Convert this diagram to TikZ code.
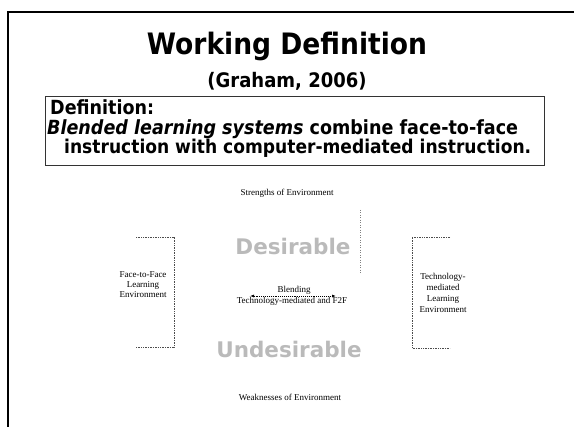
\documentclass[tikz,border=0pt]{standalone}
\usepackage{fontspec}
\setmainfont{Liberation Serif}
\newfontfamily\tah[FakeStretch=0.9]{DejaVu Sans}
\newfontfamily\dv{DejaVu Sans}
\usetikzlibrary{arrows.meta}
\begin{document}
\begin{tikzpicture}[x=1pt,y=-1pt,
  titletext/.style={font=\tah\bfseries\fontsize{29.5}{34}\selectfont, inner sep=0},
  subtitle/.style={font=\tah\bfseries\fontsize{20}{24}\selectfont, inner sep=0},
  deftext/.style={font=\tah\bfseries\fontsize{19.5}{22}\selectfont, inner sep=0, anchor=base west},
  small/.style={font=\fontsize{9}{10}\selectfont, inner sep=0, align=center},
  bigword/.style={font=\dv\bfseries\fontsize{21.5}{24}\selectfont, text=black!27, inner sep=0},
  bracket/.style={densely dotted, black!70, line width=0.7},
  frame/.style={line width=2.6, black}]
\useasboundingbox (0,0) rectangle (574,427);
% outer frame
\coordinate (fb) at (8,427);
\coordinate (fc) at (8,12);
\coordinate (fr) at (574,12);
\draw[frame] (fb) -- (fc) -- (fr);
% titles
\node[titletext] (title) at (287,46) {Working Definition};
\node[subtitle] (sub) at (287,81) {(Graham, 2006)};
% definition box
\node[draw=black!80, line width=1, minimum width=499, minimum height=69, anchor=north west, inner sep=0] (defbox) at (45,96) {};
\node[deftext] (d1) at (50,115) {Definition:};
\node[deftext] (d2) at (47,135) {\itshape Blended learning systems\upshape{} combine face-to-face};
\node[deftext, font=\tah\bfseries\fontsize{19}{22}\selectfont] (d3) at (64,154) {instruction with computer-mediated instruction.};
% diagram
\node[small] (str) at (287,193) {Strengths of Environment};
\node[bigword] (des) at (293,246) {Desirable};
\node[bigword] (undes) at (289,349) {Undesirable};
\node[small] (weak) at (290,397) {Weaknesses of Environment};
\node[small] (blend) at (294,290) {Blending};
\node[small] (tech) at (292,301) {Technology-mediated and F2F};
\coordinate (al) at (250,296);
\coordinate (ar) at (336,296);
\draw[densely dotted, line width=0.9, {Latex[length=4pt,width=3pt]}-{Latex[length=4pt,width=3pt]}] (al) -- (ar);
\coordinate (v1) at (360,210);
\coordinate (v2) at (360,273);
\draw[dotted, black!50, line width=0.5] (v1) -- (v2);
% left bracket
\coordinate (l1) at (136,237);
\coordinate (l2) at (174,237);
\coordinate (l3) at (174,347);
\coordinate (l4) at (136,347);
\draw[bracket] (l1) -- (l2) -- (l3) -- (l4);
\node[small] (ftf) at (143,285) {Face-to-Face\\Learning\\Environment};
% right bracket
\coordinate (r1) at (450,237);
\coordinate (r2) at (412,237);
\coordinate (r3) at (412,348);
\coordinate (r4) at (450,348);
\draw[bracket] (r1) -- (r2) -- (r3) -- (r4);
\node[small, font=\fontsize{9}{11}\selectfont] (tml) at (443,293) {Technology-\\mediated\\Learning\\Environment};
\end{tikzpicture}
\end{document}
